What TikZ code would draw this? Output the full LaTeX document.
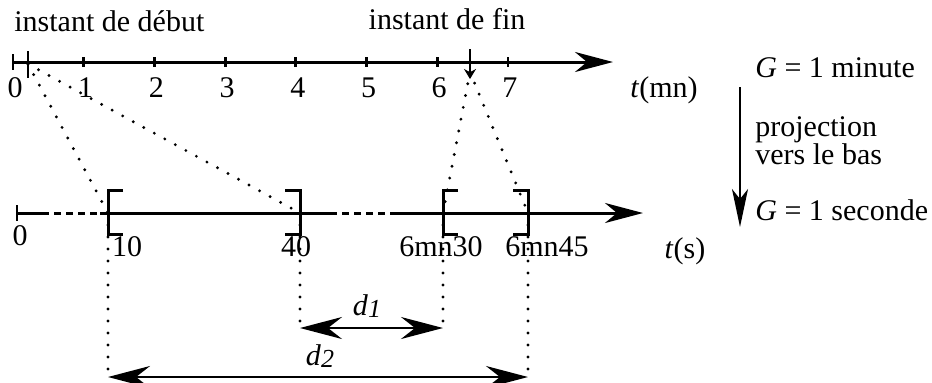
\documentclass[tikz,border=0pt]{standalone}
\usepackage{fontspec}
\setmainfont{Liberation Serif}
\usetikzlibrary{arrows.meta,positioning}

\begin{document}
\begin{tikzpicture}[
  x=0.5pt, y=-0.5pt,
  font=\fontsize{15}{17}\selectfont,
  lbl/.style={anchor=base, inner sep=0pt},
  axis/.style={line width=1.5pt},
  axisarrow/.style={axis, -{Stealth[length=19pt, width=10pt, inset=6pt]}},
  dashedaxis/.style={axis, dash pattern=on 3.5pt off 2.5pt},
  tickmark/.style={line width=1.4pt},
  bracketline/.style={line width=1.5pt},
  proj/.style={line width=1.6pt, line cap=round, dash pattern=on 0pt off 6pt},
  projarrow/.style={line width=1.1pt, -{Stealth[length=19pt, width=8pt, inset=5pt]}},
  dist/.style={line width=1.2pt,
      {Stealth[length=21pt, width=11pt, inset=7pt]}-{Stealth[length=21pt, width=11pt, inset=7pt]}}
]
\useasboundingbox (0,0) rectangle (932,382);

% axe des minutes
\draw[axisarrow] (13,62) -- (613,62);
\draw[tickmark] (13,54) -- (13,70);
\foreach \k in {1,...,7}
  \draw[tickmark] ({13+70.7*\k},57) -- ({13+70.7*\k},67);
\foreach \k in {0,...,7}
  \node[lbl] (lm\k) at ({15+70.7*\k},97) {\k};
\node[lbl] (unitm) at (664,97) {\textit{t}(mn)};

% instants de debut et de fin
\coordinate (deb) at (28,64);
\coordinate (fin) at (470,72);
\draw[tickmark] (28,51) -- (28,78);
\draw[tickmark, -{Stealth[length=5pt, width=6pt]}] (470,49) -- (470,79);
\node[lbl, anchor=base west] (tdeb) at (14,31) {instant de début};
\node[lbl] (tfin) at (447,29) {instant de fin};

% axe des secondes
\coordinate (s10) at (108,213);
\coordinate (s40) at (300,213);
\coordinate (s390) at (443,213);
\coordinate (s405) at (528,213);
\draw[tickmark] (17,205) -- (17,221);
\draw[axis] (17,213) -- (42,213);
\draw[dashedaxis] (42,213) -- (100,213);
\draw[axis] (100,213) -- (330,213);
\draw[dashedaxis] (330,213) -- (395,213);
\draw[axisarrow] (395,213) -- (643,213);
\foreach \x/\s in {108/1, 300/-1, 443/1, 528/-1}
  \draw[bracketline] ({\x+15*\s},190) -| (\x,234) -- ({\x+15*\s},234);
\node[lbl] (ls0) at (20,245) {0};
\node[lbl] (ls10) at (127,256) {10};
\node[lbl] (ls40) at (296,256) {40};
\node[lbl] (ls390) at (441,256) {6mn30};
\node[lbl] (ls405) at (547,256) {6mn45};
\node[lbl] (units) at (685,258) {\textit{t}(s)};

% projections
\draw[proj] (deb) -- (s10);
\draw[proj] (deb) -- (s40);
\draw[proj] (fin) -- (s390);
\draw[proj] (fin) -- (s405);

% distances
\coordinate (d1l) at (300,328);
\coordinate (d1r) at (443,328);
\coordinate (d2l) at (108,377);
\coordinate (d2r) at (528,377);
\draw[proj] (s10) -- (d2l);
\draw[proj] (s40) -- (d1l);
\draw[proj] (s390) -- (d1r);
\draw[proj] (s405) -- (d2r);
\draw[dist] (d1l) -- (d1r);
\draw[dist] (d2l) -- (d2r);
\node[lbl] (ld1) at (367,315)
  {\textit{d}\raisebox{-1pt}{\fontsize{13}{15}\selectfont\textit{1}}};
\node[lbl] (ld2) at (320,365)
  {\textit{d}\raisebox{-1pt}{\fontsize{13}{15}\selectfont\textit{2}}};

% granularites
\node[lbl, anchor=base west] (gmin) at (755,77) {\textit{G} = 1 minute};
\node[lbl, anchor=base west] (tproj) at (755,136) {projection};
\node[lbl, anchor=base west] (tvers) at (755,164) {vers le bas};
\node[lbl, anchor=base west] (gsec) at (755,220) {\textit{G} = 1 seconde};
\coordinate (pa) at (740,87);
\coordinate (pb) at (740,227);
\draw[projarrow] (pa) -- (pb);
\end{tikzpicture}
\end{document}
